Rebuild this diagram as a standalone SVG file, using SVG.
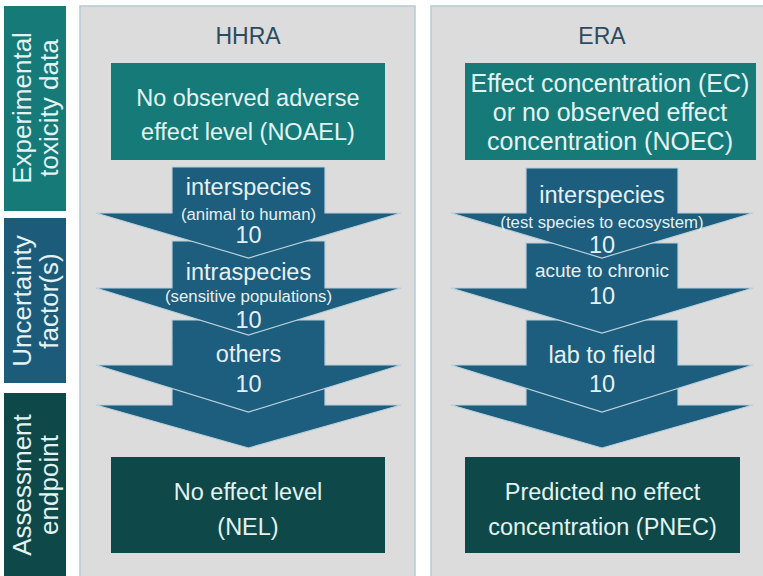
<svg xmlns="http://www.w3.org/2000/svg" width="763" height="576" viewBox="0 0 763 576">
<style>
.panel{fill:#dcdcdc;stroke:#b6cad4;stroke-width:1.5}
.side{font-family:"Liberation Sans",Arial,sans-serif;font-size:26px;fill:#e4f2f2;text-anchor:middle}
.title{font-family:"Liberation Sans",Arial,sans-serif;font-size:23px;fill:#2b4b60;text-anchor:middle}
.bt{font-family:"Liberation Sans",Arial,sans-serif;font-size:23.5px;fill:#e2f3f3;text-anchor:middle}
.at{font-family:"Liberation Sans",Arial,sans-serif;font-size:23.5px;fill:#e6f0f4;text-anchor:middle}
.as{font-family:"Liberation Sans",Arial,sans-serif;font-size:16.8px;fill:#e6f0f4;text-anchor:middle}
.arrow{fill:#1d5d7d;stroke:#b9d0dc;stroke-width:1.2;stroke-linejoin:miter}
.teal{fill:#157a78}
.blue{fill:#1d5b7b}
.dark{fill:#0e4848}
</style>
<rect width="763" height="576" fill="#ffffff"/>

<g id="label-experimental">
<rect class="teal" x="4" y="6" width="62" height="205"/>
<text class="side" transform="translate(31,108) rotate(-90)">Experimental</text>
<text class="side" transform="translate(58,108) rotate(-90)">toxicity data</text>
</g>
<g id="label-uncertainty">
<rect class="blue" x="4" y="218" width="62" height="165"/>
<text class="side" transform="translate(31,301) rotate(-90)">Uncertainty</text>
<text class="side" transform="translate(58,301) rotate(-90)">factor(s)</text>
</g>
<g id="label-assessment">
<rect class="dark" x="4" y="393" width="62" height="190"/>
<text class="side" transform="translate(31,485) rotate(-90)">Assessment</text>
<text class="side" transform="translate(58,485) rotate(-90)">endpoint</text>
</g>

<g id="panel-hhra">
<rect class="panel" x="80" y="6" width="335" height="590"/>
<text class="title" x="248" y="44">HHRA</text>
</g>
<g id="panel-era">
<rect class="panel" x="431" y="6" width="345" height="590"/>
<text class="title" x="602" y="44">ERA</text>
</g>

<g id="noael">
<rect class="teal" x="111" y="63" width="274" height="97"/>
<text class="bt" x="248" y="106">No observed adverse</text>
<text class="bt" x="248" y="140">effect level (NOAEL)</text>
</g>
<g id="ec-noec">
<rect class="teal" x="465" y="63" width="291" height="97"/>
<text class="bt" x="610" y="92" style="font-size:25px">Effect concentration (EC)</text>
<text class="bt" x="610" y="121" style="font-size:25px">or no observed effect</text>
<text class="bt" x="610" y="150" style="font-size:25px">concentration (NOEC)</text>
</g>

<g id="connectors">
<g id="hhra-final">
<polygon class="arrow" points="172,340 325,340 325,405 401,405 248.5,448 96,405 172,405"/>
</g>
<g id="hhra-others">
<polygon class="arrow" points="172,320 325,320 325,365 401,365 248.5,412 96,365 172,365"/>
<text class="at" x="248.5" y="362">others</text>
<text class="at" x="248.5" y="392">10</text>
</g>
<g id="hhra-intraspecies">
<polygon class="arrow" points="172,241 325,241 325,288 401,288 248.5,335 96,288 172,288"/>
<text class="at" x="248.5" y="280">intraspecies</text>
<text class="as" x="248.5" y="302">(sensitive populations)</text>
<text class="at" x="248.5" y="328">10</text>
</g>
<g id="hhra-interspecies">
<polygon class="arrow" points="172,167 325,167 325,213 401,213 248.5,258 96,213 172,213"/>
<text class="at" x="248.5" y="195">interspecies</text>
<text class="as" x="248.5" y="220">(animal to human)</text>
<text class="at" x="248.5" y="243">10</text>
</g>

<g id="era-final">
<polygon class="arrow" points="526,340 678,340 678,405 753,405 602,448 451,405 526,405"/>
</g>
<g id="era-lab">
<polygon class="arrow" points="526,320 678,320 678,365 753,365 602,412 451,365 526,365"/>
<text class="at" x="602" y="363">lab to field</text>
<text class="at" x="602" y="392">10</text>
</g>
<g id="era-acute">
<polygon class="arrow" points="526,243 678,243 678,288 753,288 602,333 451,288 526,288"/>
<text class="at" x="602" y="277" style="font-size:19px">acute to chronic</text>
<text class="at" x="602" y="304">10</text>
</g>
<g id="era-interspecies">
<polygon class="arrow" points="526,168 678,168 678,213 753,213 602,258 451,213 526,213"/>
<text class="at" x="602" y="203">interspecies</text>
<text class="as" x="602" y="228">(test species to ecosystem)</text>
<text class="at" x="602" y="253">10</text>
</g>
</g>

<g id="nel">
<rect class="dark" x="111" y="457" width="274" height="96"/>
<text class="bt" x="248" y="500">No effect level</text>
<text class="bt" x="248" y="535">(NEL)</text>
</g>
<g id="pnec">
<rect class="dark" x="465" y="457" width="275" height="96"/>
<text class="bt" x="602.5" y="500">Predicted no effect</text>
<text class="bt" x="602.5" y="535">concentration (PNEC)</text>
</g>
</svg>
